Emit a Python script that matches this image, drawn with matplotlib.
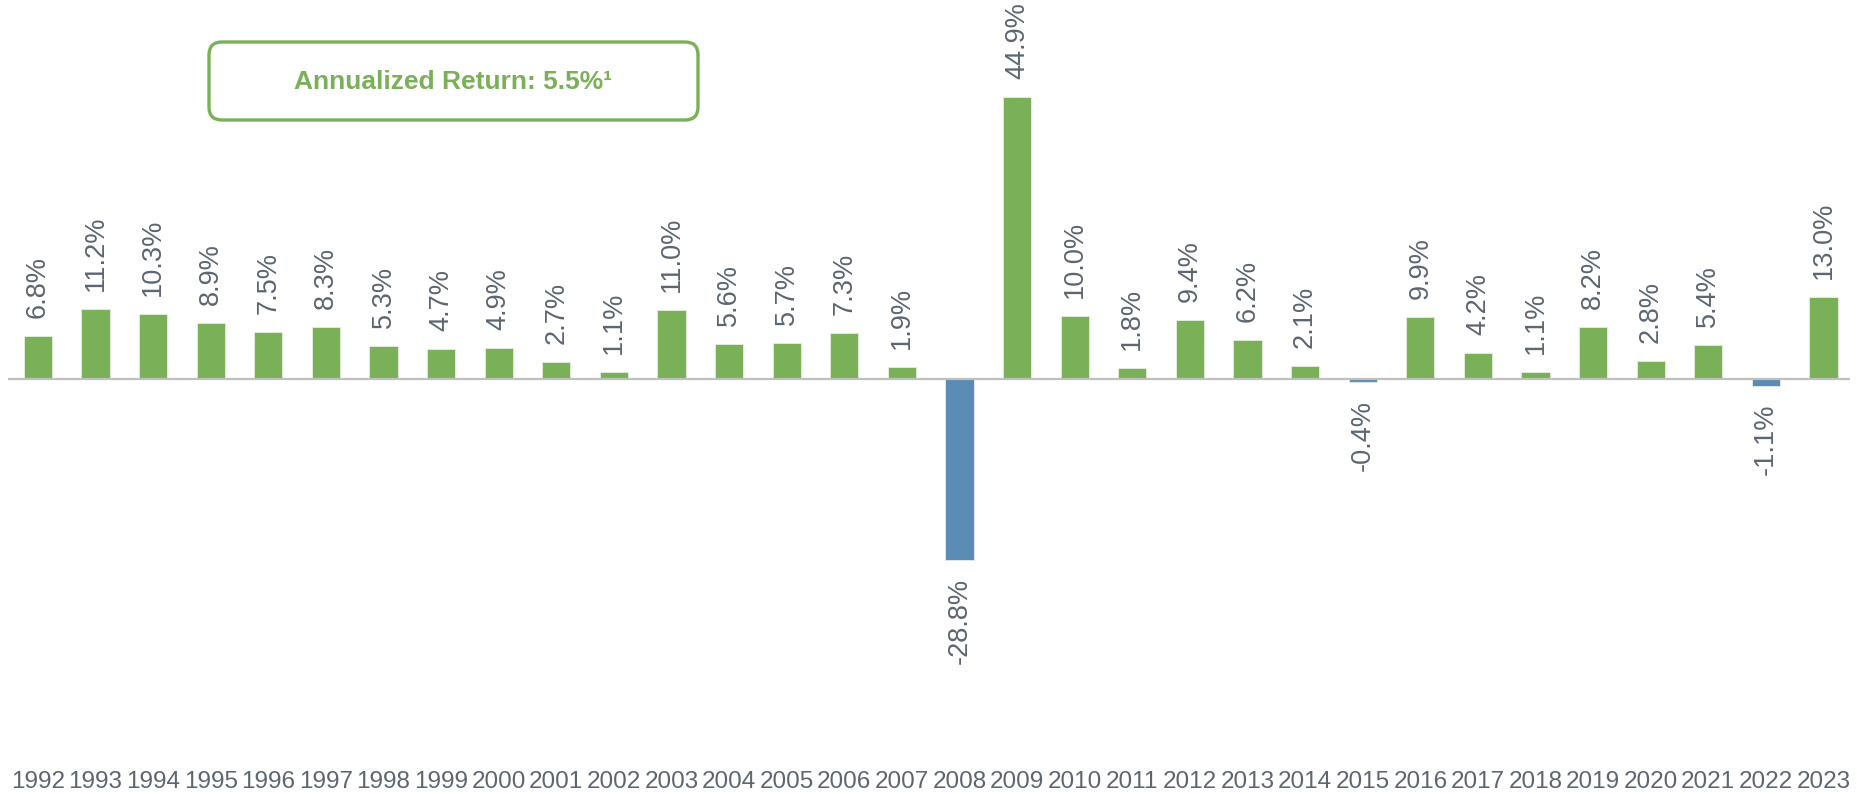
import matplotlib
matplotlib.use("Agg")
import matplotlib.pyplot as plt
from matplotlib.patches import FancyBboxPatch

years = list(range(1992, 2024))
returns = [6.8, 11.2, 10.3, 8.9, 7.5, 8.3, 5.3, 4.7, 4.9, 2.7, 1.1, 11.0, 5.6, 5.7,
           7.3, 1.9, -28.8, 44.9, 10.0, 1.8, 9.4, 6.2, 2.1, -0.4, 9.9, 4.2, 1.1,
           8.2, 2.8, 5.4, -1.1, 13.0]
annual_text = "Annualized Return: 5.5%\u00b9"

GREEN = "#7ab058"
BLUE = "#5b8cb5"
TXT = "#5d6670"

plt.rcParams['font.family'] = ['Liberation Sans', 'DejaVu Sans']

fig = plt.figure(figsize=(18.57, 7.94), dpi=100)
ax = fig.add_axes([8/1857, 34/794, 1842/1857, 760/794])
x = list(range(len(years)))
colors = [GREEN if v >= 0 else BLUE for v in returns]
ax.bar(x, returns, width=0.49, color=colors, edgecolor="#e6f0e0", linewidth=0.6, zorder=2)
ax.axhline(0, color="#bfbfbf", lw=1.6, zorder=3)

for xi, v in zip(x, returns):
    if v >= 0:
        ax.annotate(f"{v:.1f}%", (xi, v), xytext=(0, 13), textcoords="offset points",
                    rotation=90, ha="center", va="bottom", fontsize=19.5, color=TXT)
    else:
        ax.annotate(f"{v:.1f}%", (xi, v), xytext=(0, -13), textcoords="offset points",
                    rotation=90, ha="center", va="top", fontsize=19.5, color=TXT)

ax.set_xlim(-0.52, 31.46)
ax.set_ylim(-60.67, 60.35)
ax.set_xticks(x)
ax.set_xticklabels([str(y) for y in years], fontsize=17.5, color=TXT)
ax.tick_params(axis="x", length=0, pad=8)
ax.set_yticks([])
for s in ax.spines.values():
    s.set_visible(False)

box = FancyBboxPatch((2.09, 6.74), 4.89, 0.78, boxstyle="round,pad=0,rounding_size=0.13",
                     transform=fig.dpi_scale_trans, fill=False, edgecolor=GREEN, lw=2.4)
fig.patches.append(box)
fig.text(453.5/1857, 1 - 82/794, annual_text, ha="center", va="center",
         fontsize=19, fontweight="bold", color=GREEN)

fig.savefig("out.png", dpi=100)
